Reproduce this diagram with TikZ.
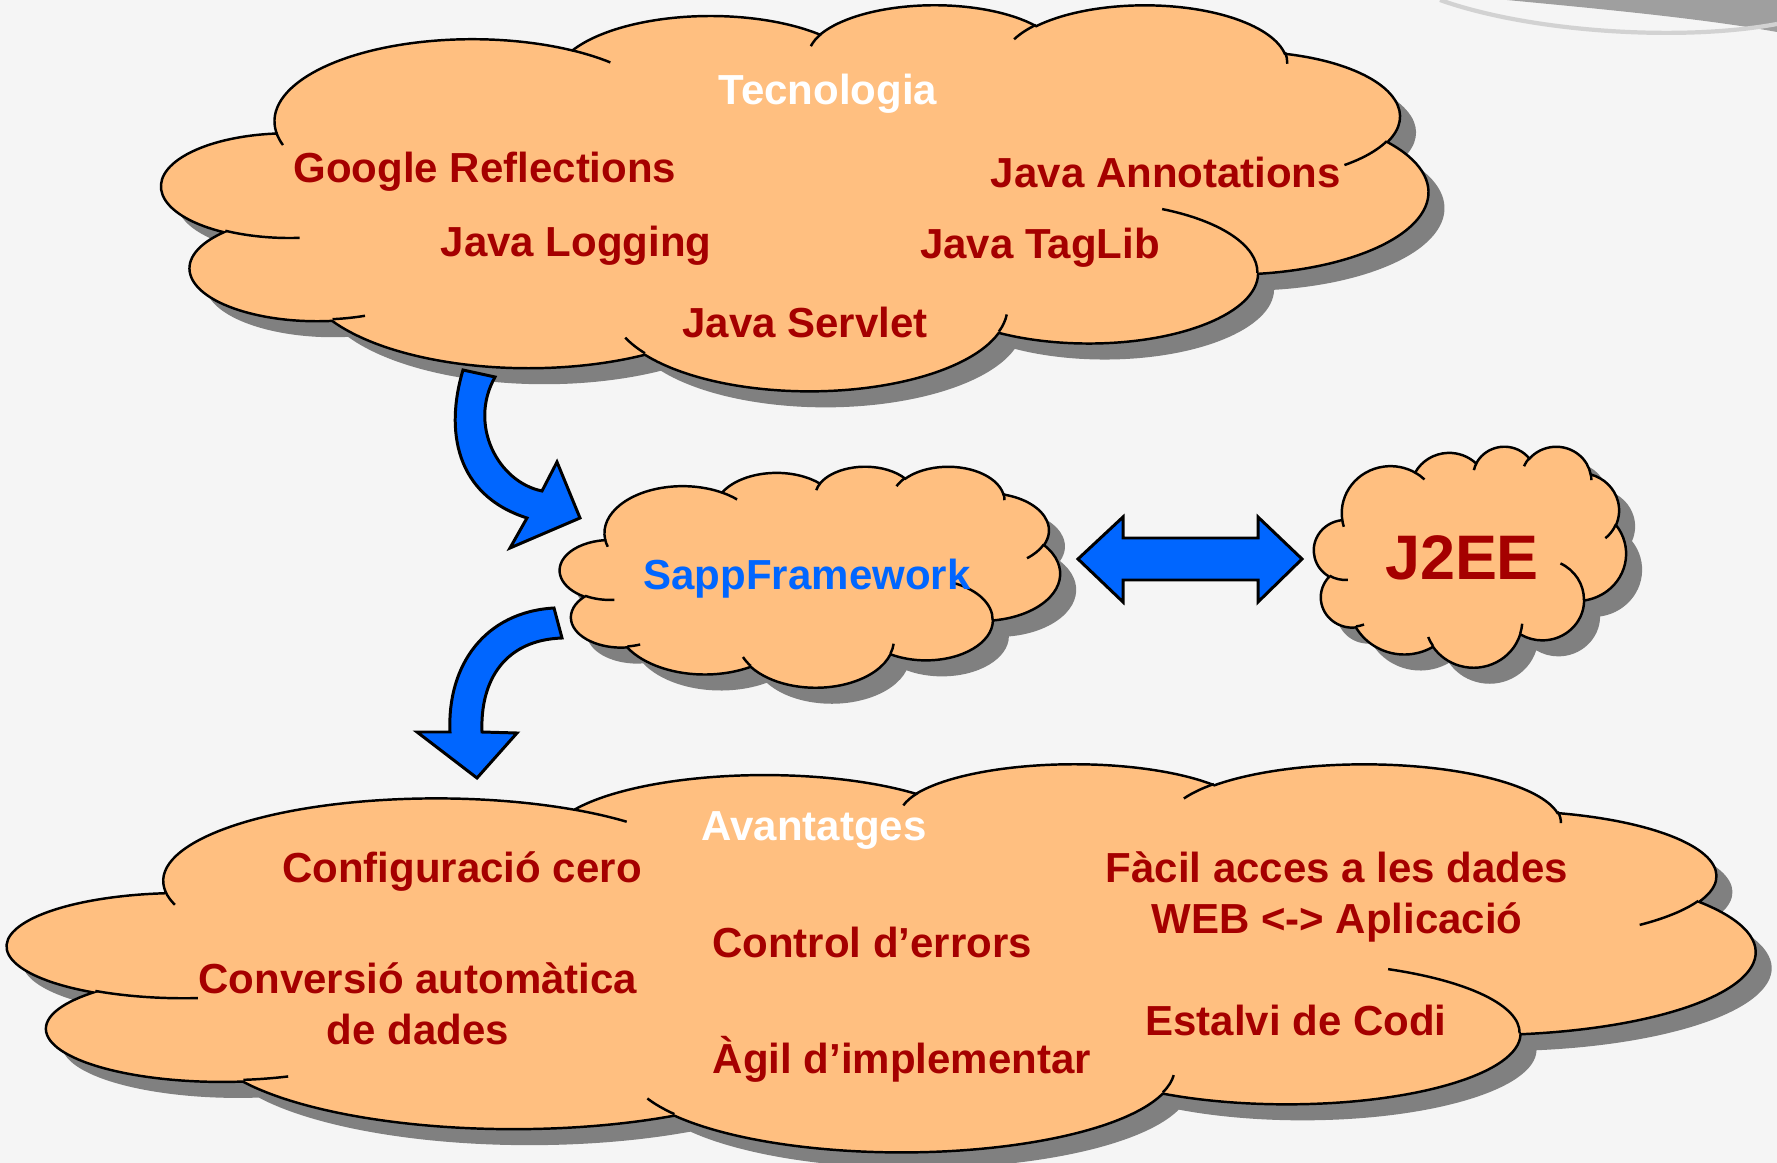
\documentclass[tikz,border=0pt]{standalone}
\usepackage{fontspec}
\setmainfont{Liberation Sans}
\definecolor{cloudfill}{HTML}{FFBF80}
\definecolor{txtred}{HTML}{A50000}
\definecolor{arrowblue}{HTML}{0066FF}
\definecolor{shadowgray}{HTML}{808080}
\definecolor{bggray}{HTML}{F5F5F5}
\tikzset{
  carc/.style n args={4}{insert path={arc[x radius=#1, y radius=#2,
    start angle={atan2((#1)*sin(#3),(#2)*cos(#3))},
    delta angle={mod(atan2((#1)*sin((#3)+(#4)),(#2)*cos((#3)+(#4)))-atan2((#1)*sin(#3),(#2)*cos(#3))+720,360)}]}},
  lbl/.style={font=\fontsize{11.95}{14}\selectfont\bfseries, text=txtred, anchor=base, inner sep=0pt},
  cloudbody/.style={fill=cloudfill, draw=black, line width=0.7pt},
  cloudline/.style={draw=black, line width=0.7pt},
  blockarrow/.style={fill=arrowblue, draw=black, line width=0.85pt, line join=miter},
}
\newcommand\cloudoutline{(39.00,143.70)
 [carc={67.53}{91.90}{-190.4875}{123.7805}]
 [carc={53.33}{72.67}{-144.1024}{89.9452}]
 [carc={43.65}{59.45}{-145.8079}{99.7230}]
 [carc={48.57}{65.95}{-130.9861}{117.2417}]
 [carc={53.33}{72.73}{-78.7089}{109.0269}]
 [carc={67.75}{92.20}{-46.2673}{130.2690}]
 [carc={57.85}{78.67}{0.6250}{114.0333}]
 [carc={67.52}{92.15}{22.4516}{115.1726}]
 [carc={77.20}{105.43}{66.2426}{75.7110}]
 [carc={43.60}{59.18}{-274.9421}{146.7356}]
 [carc={43.45}{59.45}{-246.8285}{152.5189}]
 -- cycle}
\newcommand\cloudinner{(46.93,261.77) [carc={43.45}{59.45}{86.7420}{26.4295}]
 (69.28,348.99) [carc={43.60}{59.18}{73.6105}{11.4475}]
 (164.78,390.90) [carc={67.52}{92.15}{137.6242}{14.0811}]
 (288.27,347.51) [carc={67.52}{92.15}{6.4533}{15.9984}]
 (341.29,229.54) [carc={57.85}{78.67}{-70.2924}{70.9174}]
 (417.98,153.54) [carc={53.33}{72.73}{30.3180}{27.7515}]
 (383.24,54.26) [carc={48.57}{65.95}{-13.7443}{14.8589}]
 (290.78,39.52) [carc={48.57}{65.95}{-149.1815}{18.1954}]
 (221.41,47.20) [carc={43.65}{59.45}{-163.4943}{17.6864}]
 (140.00,51.92) [carc={67.53}{91.90}{-66.7070}{12.3194}]
 (41.27,157.89) [carc={67.53}{91.90}{157.6544}{11.8582}]}
\newcommand\drawcloud[4]{%
  \pgfmathsetmacro\cxu{(#3)/4320}%
  \pgfmathsetmacro\cyu{(#4)/4320}%
  \begin{scope}[shift={(#1+16,#2+16)},x=\cxu mm,y=-\cyu mm]
    \fill[shadowgray] \cloudoutline;
  \end{scope}
  \begin{scope}[shift={(#1,#2)},x=\cxu mm,y=-\cyu mm]
    \path[cloudbody] \cloudoutline;
    \path[cloudline] \cloudinner;
  \end{scope}}
\begin{document}
\begin{tikzpicture}[x=0.1mm,y=-0.1mm]
\useasboundingbox (0,0) rectangle (1777,1163);
\fill[bggray] (0,0) rectangle (1777,1163);
% swoosh top right
\fill[gray!75] (1507,0) .. controls (1590,8) and (1700,18) .. (1777,32) -- (1777,0) -- cycle;
\draw[gray!35, line width=1.2pt] (1440,0) .. controls (1530,32) and (1680,42) .. (1777,24);
% clouds
\drawcloud{162}{4}{1266}{386}
\drawcloud{560}{466}{500}{221}
\drawcloud{1314}{446}{312}{221}
\drawcloud{8}{763}{1747}{388}
% curved block arrow 1
\path[blockarrow] (463,370) .. controls (445,430) and (455,495) .. (527,518)
  -- (510,548) -- (580,518) -- (557,462) -- (542,491)
  .. controls (498,482) and (468,425) .. (495,377) -- cycle;
% curved block arrow 2
\path[blockarrow] (554,608) .. controls (485,612) and (447,665) .. (450,732)
  -- (417,732) -- (477,778) -- (517,733) -- (482,732)
  .. controls (480,680) and (505,640) .. (562,638) -- cycle;
% double arrow
\path[blockarrow] (1078,559) -- (1123,517) -- (1123,538) -- (1258,538) -- (1258,517)
  -- (1302,559) -- (1258,602) -- (1258,580) -- (1123,580) -- (1123,602) -- cycle;
% texts
\node[lbl, text=white] (tec) at (828,105) {Tecnologia};
\node[lbl] (gr) at (485,183) {Google Reflections};
\node[lbl] (jl) at (576,257) {Java Logging};
\node[lbl] (js) at (805,338) {Java Servlet};
\node[lbl] (ja) at (1166,188) {Java Annotations};
\node[lbl] (jt) at (1040,259) {Java TagLib};
\node[lbl, text=arrowblue] (sf) at (807,589) {SappFramework};
\node[lbl, font=\fontsize{17.9}{20}\selectfont\bfseries] (j2) at (1462,580) {J2EE};
\node[lbl, text=white] (av) at (814,840) {Avantatges};
\node[lbl] (cc) at (462,882) {Configuració cero};
\node[lbl] (ca) at (418,993) {Conversió automàtica};
\node[lbl] (dd) at (418,1044) {de dades};
\node[lbl] (ce) at (872,957) {Control d’errors};
\node[lbl] (ai) at (902,1073) {Àgil d’implementar};
\node[lbl] (fa) at (1337,882) {Fàcil acces a les dades};
\node[lbl] (wa) at (1337,933) {WEB <-> Aplicació};
\node[lbl] (ec) at (1296,1035) {Estalvi de Codi};
\end{tikzpicture}
\end{document}
